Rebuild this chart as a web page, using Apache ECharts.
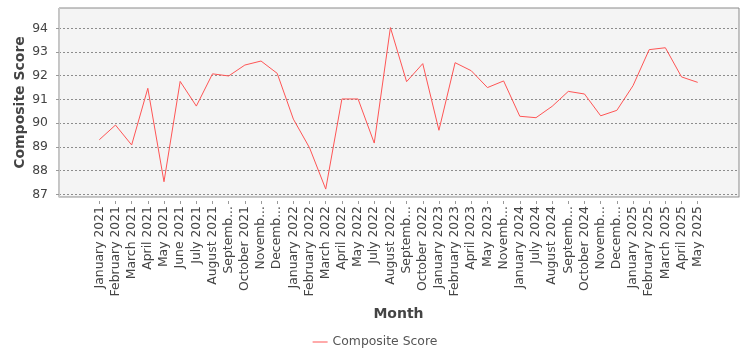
<!DOCTYPE html>
<html>
<head>
<meta charset="utf-8">
<script src="https://cdn.jsdelivr.net/npm/echarts@6/dist/echarts.min.js"></script>
<style>
  html, body { margin: 0; padding: 0; background: #ffffff; }
  #chart { width: 750px; height: 350px; }
</style>
</head>
<body>
<div id="chart"></div>
<script>
// Monthly composite score
const months = [
  'January 2021', 'February 2021', 'March 2021', 'April 2021', 'May 2021', 'June 2021',
  'July 2021', 'August 2021', 'September 2021', 'October 2021', 'November 2021', 'December 2021',
  'January 2022', 'February 2022', 'March 2022', 'April 2022', 'May 2022', 'July 2022',
  'August 2022', 'September 2022', 'October 2022', 'January 2023', 'February 2023', 'April 2023',
  'May 2023', 'November 2023', 'January 2024', 'July 2024', 'August 2024', 'September 2024',
  'October 2024', 'November 2024', 'December 2024', 'January 2025', 'February 2025', 'March 2025',
  'April 2025', 'May 2025'
];
const compositeScore = [
  89.30, 89.92, 89.08, 91.47, 87.53, 91.76,
  90.72, 92.08, 91.99, 92.45, 92.62, 92.10,
  90.17, 88.96, 87.22, 91.02, 91.02, 89.16,
  94.03, 91.75, 92.51, 89.70, 92.55, 92.21,
  91.50, 91.78, 90.29, 90.23, 90.71, 91.34,
  91.23, 90.31, 90.54, 91.58, 93.10, 93.18,
  91.95, 91.72
];
const yTicks = [87, 88, 89, 90, 91, 92, 93, 94];

const FONT = 'DejaVu Sans';
const LABEL_SIZE = 12.4;

// Long month labels are cut at the first word and closed with "..."
const measureCtx = document.createElement('canvas').getContext('2d');
measureCtx.font = LABEL_SIZE + 'px "' + FONT + '"';
function shortLabel(text) {
  if (measureCtx.measureText(text).width <= 95) return text;
  const sp = text.indexOf(' ');
  const head = sp >= 0 ? text.slice(0, sp + 1) : text;
  return head.length > 3 ? head.slice(0, head.length - 3) + '...' : '...';
}

const chart = echarts.init(document.getElementById('chart'), null, { renderer: 'canvas' });

const plotLeft = 59, plotTop = 8, plotW = 680, plotH = 189;
const valTop = 28.3, valH = 166;          // 94 .. 87
const catLeft = 99.3, catRight = 750 - 697.7;

chart.setOption({
  animation: false,
  backgroundColor: '#ffffff',
  textStyle: { fontFamily: FONT },
  grid: [
    // plot frame
    { left: plotLeft, top: plotTop, width: plotW, height: plotH, show: true,
      backgroundColor: '#f4f4f4', borderColor: '#8a8a8a', borderWidth: 1, z: 0 },
    // value gridlines
    { left: plotLeft, top: valTop, width: plotW, height: valH, show: false },
    // series area
    { left: catLeft, right: catRight, top: valTop, height: valH, show: false }
  ],
  xAxis: [
    { type: 'value', gridIndex: 0, min: 0, max: 1, offset: 4,
      axisLine: { show: true, lineStyle: { color: '#c8c8c8', width: 1 } },
      axisTick: { show: false }, axisLabel: { show: false }, splitLine: { show: false } },
    { type: 'value', gridIndex: 1, min: 0, max: 1, show: false },
    { type: 'category', gridIndex: 2, data: months, boundaryGap: false, offset: 6.7,
      axisLine: { show: false },
      axisTick: { show: true, interval: 0, length: 3, inside: false,
        lineStyle: { color: '#9a9a9a', width: 1 } },
      axisLabel: { interval: 0, rotate: 90, margin: 5, color: '#444444',
        fontFamily: FONT, fontSize: LABEL_SIZE, formatter: shortLabel },
      name: 'Month', nameLocation: 'middle', nameGap: 106,
      nameTextStyle: { fontFamily: FONT, fontSize: 14, fontWeight: 'bold', color: '#444444' } }
  ],
  yAxis: [
    { type: 'value', gridIndex: 0, min: 0, max: 1, offset: 4,
      axisLine: { show: true, lineStyle: { color: '#c8c8c8', width: 1 } },
      axisTick: { show: false }, axisLabel: { show: false }, splitLine: { show: false },
      name: 'Composite Score', nameLocation: 'middle', nameGap: 28, nameRotate: 90,
      nameTextStyle: { fontFamily: FONT, fontSize: 14, fontWeight: 'bold', color: '#444444' } },
    { type: 'value', gridIndex: 1, min: yTicks[0], max: yTicks[yTicks.length - 1], interval: 1,
      offset: 4,
      axisLine: { show: false },
      axisTick: { show: true, length: 3, lineStyle: { color: '#9a9a9a' } },
      axisLabel: { margin: 7, color: '#444444', fontFamily: FONT, fontSize: LABEL_SIZE },
      splitLine: { show: true, lineStyle: { color: '#8c8c8c', width: 1, type: [2, 2] } } },
    { type: 'value', gridIndex: 2, min: yTicks[0], max: yTicks[yTicks.length - 1], show: false }
  ],
  legend: {
    data: ['Composite Score'], left: 'center', top: 331,
    icon: 'rect', itemWidth: 15, itemHeight: 1, itemGap: 10,
    textStyle: { fontFamily: FONT, fontSize: LABEL_SIZE, color: '#555555' }
  },
  series: [{
    name: 'Composite Score', type: 'line', xAxisIndex: 2, yAxisIndex: 2,
    data: compositeScore, symbol: 'none', clip: false,
    lineStyle: { color: '#ff5555', width: 1 }, itemStyle: { color: '#ff5555' }, z: 5
  }]
});
</script>
</body>
</html>
